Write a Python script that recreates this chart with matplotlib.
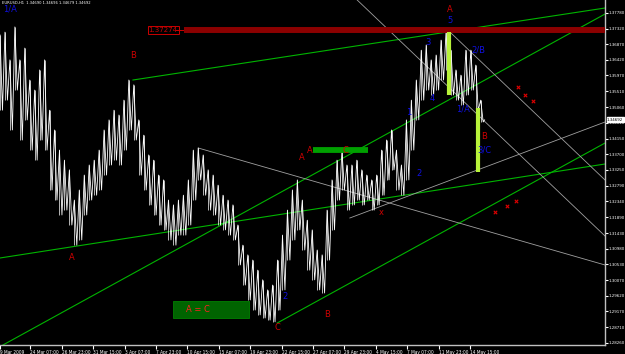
# EURUSD H1 chart with wave labels, trend lines and channel (MT4 style)

import numpy as np
import matplotlib
matplotlib.use('Agg')
import matplotlib.pyplot as plt

plt.rcParams['font.family'] = ['DejaVu Sans']

# price range per column (every ~10 hourly bars)
hi = [1.3714, 1.3722, 1.3642, 1.3737, 1.3642, 1.3676, 1.3584, 1.3555, 1.3613, 1.3642,
      1.3497, 1.3440, 1.3382, 1.3353, 1.3325, 1.3238, 1.3267, 1.3310, 1.3339, 1.3353,
      1.3382, 1.3440, 1.3469, 1.3497, 1.3483, 1.3526, 1.3584, 1.3570, 1.3469, 1.3425,
      1.3368, 1.3353, 1.3310, 1.3296, 1.3238, 1.3224, 1.3238, 1.3252, 1.3296, 1.3382,
      1.3388, 1.3368, 1.3325, 1.3310, 1.3281, 1.3252, 1.3238, 1.3224, 1.3166, 1.3108,
      1.3080, 1.3065, 1.3036, 1.3008, 1.2979, 1.2993, 1.3065, 1.3137, 1.3209, 1.3267,
      1.3296, 1.3238, 1.3180, 1.3152, 1.3094, 1.3080, 1.3209, 1.3296, 1.3353, 1.3382,
      1.3339, 1.3339, 1.3353, 1.3325, 1.3310, 1.3296, 1.3310, 1.3382, 1.3411, 1.3440,
      1.3382, 1.3339, 1.3469, 1.3526, 1.3584, 1.3670, 1.3685, 1.3642, 1.3656, 1.3699,
      1.3722, 1.3670, 1.3613, 1.3598, 1.3670, 1.3670, 1.3627, 1.3526]
lo = [1.3497, 1.3526, 1.3440, 1.3555, 1.3411, 1.3469, 1.3382, 1.3353, 1.3411, 1.3382,
      1.3267, 1.3238, 1.3195, 1.3209, 1.3166, 1.3108, 1.3123, 1.3195, 1.3238, 1.3252,
      1.3267, 1.3310, 1.3339, 1.3353, 1.3339, 1.3382, 1.3440, 1.3411, 1.3310, 1.3267,
      1.3224, 1.3195, 1.3166, 1.3152, 1.3123, 1.3108, 1.3137, 1.3137, 1.3166, 1.3238,
      1.3296, 1.3252, 1.3209, 1.3195, 1.3166, 1.3152, 1.3137, 1.3123, 1.3051, 1.2993,
      1.2950, 1.2921, 1.2907, 1.2898, 1.2892, 1.2887, 1.2921, 1.2979, 1.3065, 1.3123,
      1.3152, 1.3094, 1.3036, 1.3008, 1.2979, 1.2970, 1.3065, 1.3152, 1.3238, 1.3267,
      1.3209, 1.3224, 1.3238, 1.3224, 1.3238, 1.3209, 1.3224, 1.3252, 1.3296, 1.3325,
      1.3267, 1.3252, 1.3296, 1.3382, 1.3469, 1.3526, 1.3555, 1.3541, 1.3555, 1.3584,
      1.3613, 1.3541, 1.3526, 1.3512, 1.3541, 1.3555, 1.3497, 1.3463]
last_close = 1.34692

price_ticks = [1.37780, 1.37320, 1.36870, 1.36420, 1.35970, 1.35510, 1.35060, 1.34610,
               1.34150, 1.33700, 1.33250, 1.32790, 1.32340, 1.31890, 1.31430, 1.30980,
               1.30530, 1.30070, 1.29620, 1.29170, 1.28710, 1.28260]
date_labels = ['9 Mar 2009', '24 Mar 07:00', '26 Mar 23:00', '31 Mar 15:00', '3 Apr 07:00',
               '7 Apr 23:00', '10 Apr 15:00', '15 Apr 07:00', '19 Apr 23:00', '22 Apr 15:00',
               '27 Apr 07:00', '29 Apr 23:00', '4 May 15:00', '7 May 07:00', '11 May 23:00',
               '14 May 15:00']
date_bars = [0, 62, 126, 190, 254, 318, 382, 446, 510, 574, 638, 702, 766, 830, 894, 958]

# trend lines: (bar0, price0, bar1, price1)
green_lines = [(271, 1.35840, 1233, 1.37915),
               (6, 1.28202, 1233, 1.37742),
               (0, 1.30710, 1233, 1.33419),
               (565, 1.28836, 1233, 1.34024)]
grey_lines = [(917, 1.37223, 1233, 1.32958),
              (728, 1.38145, 1233, 1.31344),
              (404, 1.33880, 1233, 1.30508),
              (713, 1.31863, 1233, 1.34629)]

level_price = 1.37274

red_labels = [('A', 917, 1.37886), ('B', 271, 1.36560), ('A', 147, 1.30710),
              ('A', 616, 1.33592), ('A', 632, 1.33822), ('C', 705, 1.33822),
              ('C', 565, 1.28692), ('B', 667, 1.29067), ('B', 987, 1.34226),
              ('x', 777, 1.32035)]
blue_labels = [('1/A', 20, 1.37886), ('5', 917, 1.37569), ('3', 872, 1.36935),
               ('2/B', 974, 1.36704), ('4', 881, 1.35321), ('1/A', 944, 1.35004),
               ('1', 832, 1.34889), ('3/C', 987, 1.33822), ('2', 854, 1.33159),
               ('2', 581, 1.29586)]
x_marks_bar = [1056, 1070, 1086, 1009, 1033, 1052]
x_marks_price = [1.35638, 1.35407, 1.35234, 1.32035, 1.32208, 1.32352]

# A-B measured moves (yellow-green bars)
move_bar = [916, 974]
move_top = [1.37223, 1.35033]
move_bot = [1.35407, 1.33188]

small = dict(family=['Liberation Sans Narrow', 'DejaVu Sans'], stretch='condensed')

fig = plt.figure(figsize=(6.25, 3.54), dpi=100, facecolor='black')
ax = fig.add_axes([0, 9 / 354, 605 / 625, 345 / 354], facecolor='black')
ax.set_xlim(0, 1233)
ax.set_ylim(1.28202, 1.38146)

# price: bar ranges plus a zigzag through highs and lows
bars = np.arange(len(hi)) * 10.1
ax.vlines(bars, lo, hi, color='white', lw=0.5, zorder=3)
xs = np.column_stack([bars, bars + 5.05]).ravel()
ys = np.column_stack([hi, lo]).ravel()
xs = np.append(xs, bars[-1] + 8)
ys = np.append(ys, last_close)
ax.plot(xs, ys, color='white', lw=0.6, zorder=3)

for b0, p0, b1, p1 in green_lines:
    ax.plot([b0, b1], [p0, p1], color='#00b400', lw=0.8, zorder=2)
for b0, p0, b1, p1 in grey_lines:
    ax.plot([b0, b1], [p0, p1], color='#a0a0a0', lw=0.6, zorder=2)

# resistance level
ax.plot([375, 1233], [level_price, level_price], color='#8b0000', lw=4.3,
        solid_capstyle='butt', zorder=4)
ax.plot([359, 373], [level_price, level_price], color='#cc0000', lw=0.7, zorder=4)
ax.text(303, level_price, f'{level_price:.5f}', color='#cc0000', fontsize=5,
        va='center', ha='left', zorder=5,
        bbox=dict(boxstyle='square,pad=0.15', fc='none', ec='#cc0000', lw=0.7))

# A = C boxes
ax.plot([638, 750], [1.33822, 1.33822], color='#00a000', lw=4.2,
        solid_capstyle='butt', zorder=4)
ax.add_patch(plt.Rectangle((353, 1.28981), 155, 0.00489, fc='#006400',
                           ec='#008000', lw=0.6, zorder=4))
ax.text(404, 1.29225, 'A = C', color='#ff2020', fontsize=6, ha='center',
        va='center', zorder=8)

for b, t, btm in zip(move_bar, move_top, move_bot):
    ax.plot([b, b], [btm, t], color='#b8f23a', lw=3, solid_capstyle='butt', zorder=4)

for txt, b, p in red_labels:
    ax.text(b, p, txt, color='#d00000', fontsize=6, ha='center', va='center', zorder=6)
for txt, b, p in blue_labels:
    ax.text(b, p, txt, color='#1010e0', fontsize=6, ha='center', va='center', zorder=6)
ax.scatter(x_marks_bar, x_marks_price, marker='x', color='#e00000', s=6,
           linewidths=0.8, zorder=6)

ax.text(4, 1.3806, 'EURUSD,H1  1.34690 1.34696 1.34679 1.34692', color='white',
        fontsize=3, ha='left', va='center', zorder=6, **small)

# axes in MT4 style
for s in ['top', 'left']:
    ax.spines[s].set_visible(False)
for s in ['right', 'bottom']:
    ax.spines[s].set_color('#c0c0c0')
    ax.spines[s].set_linewidth(1)
ax.yaxis.tick_right()
ax.set_yticks(price_ticks)
ax.set_yticklabels([f'{p:.5f}' for p in price_ticks], **small)
ax.set_xticks(date_bars)
ax.set_xticklabels(date_labels, ha='left', **small)
ax.tick_params(axis='y', colors='white', labelsize=3.2, length=2, pad=0.8)
ax.tick_params(axis='x', colors='white', labelsize=3.4, length=3, pad=0.5)

ax.text(1237, last_close, f'{last_close:.5f}', color='black', fontsize=3.2,
        ha='left', va='center', zorder=7, clip_on=False,
        bbox=dict(boxstyle='square,pad=0.1', fc='white', ec='white'), **small)

fig.savefig('out.png', dpi=100, facecolor='black')
